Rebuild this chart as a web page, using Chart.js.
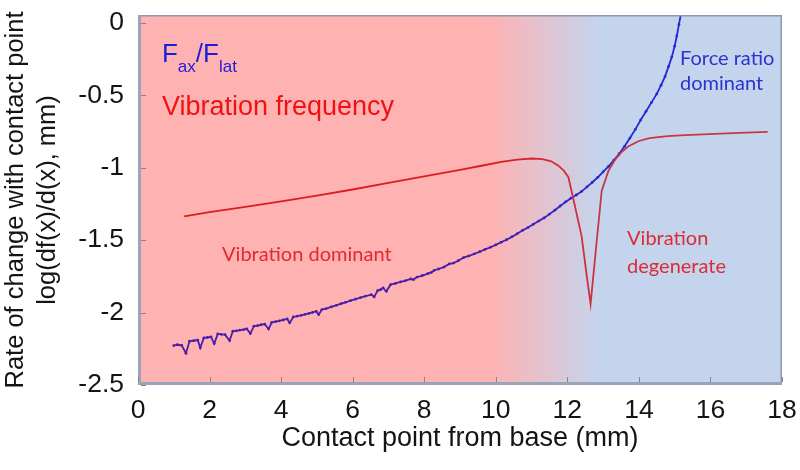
<!DOCTYPE html>
<html><head><meta charset="utf-8">
<script src="https://cdn.jsdelivr.net/npm/chart.js@4.4.1/dist/chart.umd.min.js"></script>
<style>html,body{margin:0;padding:0;background:#fff;}#wrap{width:800px;height:470px;}</style>
</head><body><div id="wrap"><canvas id="c" width="800" height="470"></canvas></div>
<script>
// ---------- data ----------
const xTicks = [0, 2, 4, 6, 8, 10, 12, 14, 16, 18];
const yTicks = [0, -0.5, -1, -1.5, -2, -2.5];
const xTitle = 'Contact point from base (mm)';
const yTitle = ['Rate of change with contact point', 'log(df(x)/d(x), mm)'];

// Fax/Flat (force ratio) series
const forceX = [1.0,1.1,1.22,1.34,1.44,1.56,1.67,1.74,1.84,1.94,2.04,2.13,2.23,2.33,2.43,2.56,2.65,2.75,2.85,2.95,
  3.04,3.14,3.24,3.34,3.44,3.54,3.65,3.74,3.85,3.95,4.06,4.17,4.24,4.34,4.45,4.56,4.67,4.78,4.88,4.98,
  5.05,5.14,5.26,5.4,5.54,5.68,5.8,5.94,6.08,6.22,6.36,6.52,6.6,6.7,6.78,6.85,6.94,7.06,7.2,7.34,
  7.48,7.62,7.7,7.8,7.95,8.1,8.2,8.28,8.4,8.55,8.7,8.82,8.95,9.1,9.25,9.4,9.55,9.7,9.85,10.0,
  10.15,10.3,10.45,10.6,10.75,10.9,11.05,11.2,11.35,11.5,11.65,11.8,11.95,12.1,12.25,12.4,12.55,12.7,12.85,13.0,
  13.15,13.3,13.45,13.6,13.75,13.9,14.05,14.2,14.35,14.5,14.62,14.73,14.83,14.92,15.0,15.06,15.12,15.18,15.24];
const forceY = [-2.228,-2.222,-2.226,-2.28,-2.198,-2.194,-2.19,-2.243,-2.175,-2.172,-2.168,-2.214,-2.147,-2.15,-2.152,-2.193,-2.129,-2.126,-2.121,-2.117,
  -2.112,-2.145,-2.094,-2.09,-2.084,-2.079,-2.113,-2.067,-2.062,-2.057,-2.051,-2.044,-2.071,-2.03,-2.025,-2.019,-2.012,-2.006,-1.999,-1.991,
  -2.014,-1.979,-1.972,-1.961,-1.95,-1.938,-1.929,-1.918,-1.907,-1.896,-1.886,-1.876,-1.892,-1.848,-1.842,-1.83,-1.853,-1.807,-1.798,-1.788,
  -1.779,-1.768,-1.772,-1.755,-1.744,-1.731,-1.722,-1.708,-1.699,-1.686,-1.664,-1.658,-1.642,-1.62,-1.609,-1.594,-1.58,-1.563,-1.549,-1.532,
  -1.514,-1.497,-1.477,-1.455,-1.432,-1.413,-1.39,-1.368,-1.346,-1.32,-1.293,-1.264,-1.236,-1.21,-1.188,-1.163,-1.132,-1.1,-1.066,-1.028,
  -0.99,-0.948,-0.903,-0.852,-0.795,-0.735,-0.67,-0.61,-0.55,-0.49,-0.43,-0.37,-0.3,-0.235,-0.16,-0.09,-0.01,0.07,0.16];

// Vibration frequency series
const vibX = [1.29,2.0,3.0,4.0,5.0,6.0,7.0,8.0,9.0,9.6,10.2,10.6,11.0,11.3,11.55,11.75,11.9,12.03,12.2,12.4,
  12.55,12.65,12.8,12.96,13.15,13.33,13.5,13.7,14.0,14.3,14.8,15.3,15.8,16.3,16.8,17.2,17.6];
const vibY = [-1.336,-1.306,-1.27,-1.232,-1.192,-1.15,-1.105,-1.06,-1.015,-0.986,-0.957,-0.944,-0.936,-0.94,-0.955,-0.985,-1.02,-1.065,-1.25,-1.474,
  -1.76,-1.94,-1.56,-1.16,-1.02,-0.945,-0.895,-0.853,-0.815,-0.795,-0.782,-0.775,-0.77,-0.764,-0.759,-0.755,-0.752];

// background regions (mm): pink until first stop, blue after second stop
const regionStops = [9.8, 12.9];

// ---------- styling ----------
const ARIAL = '"Liberation Sans", Arial, sans-serif';
const CALI = 'Lato, "Open Sans", sans-serif';
const PINK = '#ffb2b2', BLUE = '#c5d4ed';

function regionGradient(chart, c1, c2) {
  const {chartArea, scales} = chart;
  if (!chartArea) return c1;
  const g = chart.ctx.createLinearGradient(scales.x.getPixelForValue(regionStops[0]), 0,
                                          scales.x.getPixelForValue(regionStops[1]), 0);
  g.addColorStop(0, c1); g.addColorStop(1, c2);
  return g;
}

const zip = (xs, ys) => xs.map((x, i) => ({x, y: ys[i]}));

const decor = {
  id: 'decor',
  beforeDatasetsDraw(chart) {
    const {ctx, chartArea: a} = chart;
    ctx.save();
    ctx.fillStyle = regionGradient(chart, PINK, BLUE);
    ctx.fillRect(a.left, a.top, a.right - a.left, a.bottom - a.top);
    ctx.restore();
  },
  afterDatasetsDraw(chart) {
    const {ctx, chartArea: a, scales: {x, y}} = chart;
    ctx.save();
    // frame
    ctx.strokeStyle = '#8c98ae'; ctx.lineWidth = 1.5;
    ctx.strokeRect(a.left + 0.75, a.top + 0.75, a.right - a.left - 1.5, a.bottom - a.top - 1.5);
    ctx.strokeStyle = '#99a4b9'; ctx.lineWidth = 3;
    ctx.beginPath(); ctx.moveTo(a.left + 1.5, a.top); ctx.lineTo(a.left + 1.5, a.bottom - 1.5); ctx.lineTo(a.right, a.bottom - 1.5); ctx.stroke();
    // inner ticks
    ctx.strokeStyle = '#7d8796'; ctx.lineWidth = 1;
    ctx.beginPath();
    yTicks.forEach(v => { const p = Math.round(y.getPixelForValue(v)) + 0.5; ctx.moveTo(a.left + 3, p); ctx.lineTo(a.left + 8, p); });
    xTicks.forEach(v => { const p = Math.round(x.getPixelForValue(v)) + 0.5; ctx.moveTo(p, a.bottom - 3); ctx.lineTo(p, a.bottom - 8); });
    ctx.stroke();
    // annotations
    const X = v => x.getPixelForValue(v), Y = v => y.getPixelForValue(v);
    ctx.textBaseline = 'alphabetic'; ctx.textAlign = 'left';
    // F_ax / F_lat
    let px = X(0.67), py = Y(-0.27);
    ctx.fillStyle = '#1d1dd8';
    const big = '26px ' + ARIAL, sub = '17px ' + ARIAL;
    [['F', big, 0], ['ax', sub, 10], ['/F', big, 0], ['lat', sub, 10]].forEach(([t, f, dy]) => {
      ctx.font = f; ctx.fillText(t, px, py + dy); px += ctx.measureText(t).width;
    });
    ctx.fillStyle = '#f01212'; ctx.font = '27px ' + ARIAL;
    ctx.fillText('Vibration frequency', X(0.67), Y(-0.635));
    ctx.fillStyle = '#e4282b'; ctx.font = '20px ' + CALI;
    ctx.fillText('Vibration dominant', X(2.35), Y(-1.643));
    ctx.fillStyle = '#dc2b36';
    ctx.fillText('Vibration', X(13.67), Y(-1.533));
    ctx.fillText('degenerate', X(13.67), Y(-1.727));
    ctx.fillStyle = '#2a33d2';
    ctx.fillText('Force ratio', X(15.15), Y(-0.29));
    ctx.fillText('dominant', X(15.15), Y(-0.463));
    ctx.restore();
  }
};

new Chart(document.getElementById('c'), {
  type: 'scatter',
  data: {
    datasets: [
      {
        label: 'Vibration frequency',
        data: zip(vibX, vibY),
        showLine: true, tension: 0, borderWidth: 1.8, pointRadius: 0,
        borderColor: c => regionGradient(c.chart, '#dc1d1d', '#c83644'),
        clip: 0
      },
      {
        label: 'Fax/Flat',
        data: zip(forceX, forceY),
        showLine: true, tension: 0, borderWidth: 1.8, pointRadius: 1.4, pointBorderWidth: 0,
        borderColor: c => regionGradient(c.chart, '#4a1ea8', '#2228d4'),
        pointBackgroundColor: c => regionGradient(c.chart, '#4a1ea8', '#2228d4'),
        clip: 0
      }
    ]
  },
  options: {
    responsive: false, animation: false, devicePixelRatio: 1,
    layout: {padding: {left: 0, top: 15, right: 18, bottom: 0}},
    plugins: {legend: {display: false}, tooltip: {enabled: false}},
    scales: {
      x: {
        type: 'linear', min: 0, max: 18,
        afterBuildTicks: s => { s.ticks = xTicks.map(v => ({value: v})); },
        afterFit: s => { s.height = 85; s.paddingLeft = 0; s.paddingRight = 0; },
        grid: {display: false, drawTicks: false}, border: {display: false},
        ticks: {font: {family: ARIAL, size: 26.5}, color: '#141414', padding: 10, maxRotation: 0, autoSkip: false},
        title: {display: true, text: xTitle, font: {family: ARIAL, size: 27}, color: '#141414', padding: {top: 0, bottom: 15}}
      },
      y: {
        type: 'linear', min: -2.5, max: 0.055,
        afterBuildTicks: s => { s.ticks = yTicks.map(v => ({value: v})); },
        afterFit: s => { s.width = 138; s.paddingTop = 0; s.paddingBottom = 0; },
        grid: {display: false, drawTicks: false}, border: {display: false},
        ticks: {font: {family: ARIAL, size: 26.5}, color: '#141414', padding: 14, autoSkip: false,
                callback: v => String(v)},
        title: {display: true, text: yTitle, font: {family: ARIAL, size: 25.5, lineHeight: 1.25}, color: '#141414', padding: {top: 0, bottom: 0}}
      }
    }
  },
  plugins: [decor]
});
</script>
</body></html>
